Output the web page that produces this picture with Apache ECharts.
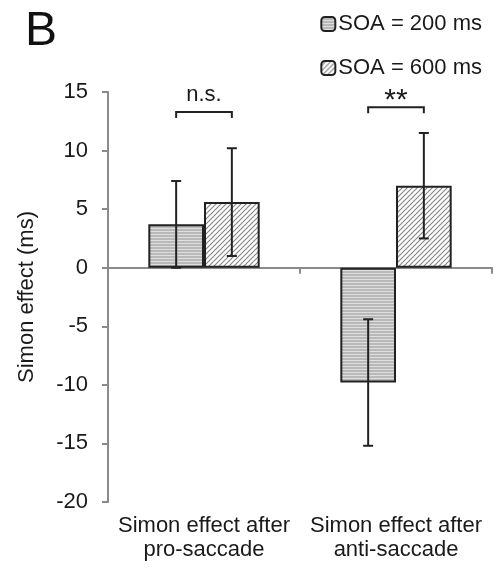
<!DOCTYPE html>
<html><head><meta charset="utf-8">
<script src="https://cdn.jsdelivr.net/npm/echarts@6/dist/echarts.min.js"></script>
<style>html,body{margin:0;background:#fff}#main{width:501px;height:568px}</style>
</head><body><div id="main"></div>
<script>
var categories = ['Simon effect after\npro-saccade', 'Simon effect after\nanti-saccade'];
var seriesNames = ['SOA = 200 ms', 'SOA = 600 ms'];
var soa200 = [3.7, -9.8];
var soa600 = [5.6, 7.0];
var err200 = [3.7, 5.4];
var err600 = [4.6, 4.5];
var bracketY = [13.3, 13.7];
var bracketText = ['n.s.', '**'];
var yTicks = [-20, 15, 5]; // min, max, step

var GAP = 0.42;
var font = 'Liberation Sans';

// fill patterns
function hPattern() {
    var c = document.createElement('canvas');
    c.width = 4; c.height = 3;
    var g = c.getContext('2d');
    g.fillStyle = '#b9b9b9'; g.fillRect(0, 0, 4, 3);
    g.fillStyle = '#dedede'; g.fillRect(0, 0, 4, 1);
    return c;
}
function dPattern() {
    var c = document.createElement('canvas');
    c.width = 5; c.height = 5;
    var g = c.getContext('2d');
    g.fillStyle = '#ffffff'; g.fillRect(0, 0, 5, 5);
    g.strokeStyle = '#888';
    g.lineWidth = 1.2;
    g.beginPath();
    g.moveTo(-1, 6); g.lineTo(6, -1);
    g.moveTo(-1, 1); g.lineTo(1, -1);
    g.moveTo(4, 6); g.lineTo(6, 4);
    g.stroke();
    return c;
}

function errRender(sign) {
    return function (params, api) {
        var cat = api.value(0), v = api.value(1), e = api.value(2);
        var band = api.size([1, 0])[0];
        var bw = band * (1 - GAP) / 2;
        var x = api.coord([cat, 0])[0] + sign * bw / 2;
        var top = api.coord([cat, v + e])[1];
        var bot = api.coord([cat, v - e])[1];
        var cap = 5;
        var st = { stroke: '#222', lineWidth: 2 };
        return {
            type: 'group', children: [
                { type: 'line', shape: { x1: x, y1: top, x2: x, y2: bot }, style: st },
                { type: 'line', shape: { x1: x - cap, y1: top, x2: x + cap, y2: top }, style: st },
                { type: 'line', shape: { x1: x - cap, y1: bot, x2: x + cap, y2: bot }, style: st }
            ]
        };
    };
}

function bracketRender(params, api) {
    var cat = api.value(0), y = api.value(1);
    var band = api.size([1, 0])[0];
    var bw = band * (1 - GAP) / 2;
    var cx = api.coord([cat, 0])[0];
    var py = api.coord([cat, y])[1];
    var x1 = cx - bw / 2, x2 = cx + bw / 2;
    var txt = bracketText[params.dataIndex];
    var stars = txt.indexOf('*') >= 0;
    return {
        type: 'group', children: [
            { type: 'polyline', shape: { points: [[x1, py + 6], [x1, py], [x2, py], [x2, py + 6]] },
              style: { stroke: '#222', lineWidth: 2, fill: null } },
            { type: 'text', style: { x: cx, y: stars ? py + 9 : py - 6, text: txt,
              font: (stars ? '30px ' : '22px ') + font, fill: '#1a1a1a', align: 'center', verticalAlign: 'bottom' } }
        ]
    };
}

var chart = echarts.init(document.getElementById('main'));
chart.setOption({
    animation: false,
    title: {
        text: 'B', left: 20, top: 3,
        textStyle: { fontSize: 48, fontWeight: 'normal', fontFamily: font, color: '#111' }
    },
    legend: {
        orient: 'vertical', right: 14, top: 8, itemGap: 22,
        itemWidth: 14, itemHeight: 14,
        data: seriesNames,
        textStyle: { fontSize: 22, fontFamily: font, color: '#1a1a1a', padding: [0, 0, 0, -2] }
    },
    grid: { left: 108, right: 9, top: 92, bottom: 66 },
    xAxis: [{
        type: 'category', data: categories,
        axisLine: { onZero: true, lineStyle: { color: '#8a8a8a', width: 2 } },
        axisTick: { show: true, length: 6, lineStyle: { color: '#8a8a8a', width: 2 } },
        axisLabel: { show: false }
    }, {
        type: 'category', data: categories, position: 'bottom',
        axisLine: { show: false, onZero: false }, axisTick: { show: false },
        axisLabel: { interval: 0, fontSize: 22, fontFamily: font, color: '#1a1a1a', lineHeight: 24, margin: 12 }
    }],
    yAxis: {
        type: 'value', min: yTicks[0], max: yTicks[1], interval: yTicks[2],
        name: 'Simon effect (ms)', nameLocation: 'middle', nameGap: 70,
        nameTextStyle: { fontSize: 22, fontFamily: font, color: '#1a1a1a' },
        axisLine: { show: true, lineStyle: { color: '#8a8a8a', width: 2 } },
        axisTick: { show: true, length: 6, lineStyle: { color: '#8a8a8a', width: 2 } },
        axisLabel: { fontSize: 22, fontFamily: font, color: '#1a1a1a', margin: 20 },
        splitLine: { show: false }
    },
    series: [{
        name: seriesNames[0], type: 'bar', data: soa200, barGap: '0%', barCategoryGap: '42%',
        itemStyle: { color: { image: hPattern(), repeat: 'repeat' }, borderColor: '#222', borderWidth: 2 }
    }, {
        name: seriesNames[1], type: 'bar', data: soa600, barGap: '0%', barCategoryGap: '42%',
        itemStyle: { color: { image: dPattern(), repeat: 'repeat' }, borderColor: '#222', borderWidth: 2 }
    }, {
        type: 'custom', renderItem: errRender(-1), z: 5,
        data: soa200.map(function (v, i) { return [i, v, err200[i]]; })
    }, {
        type: 'custom', renderItem: errRender(1), z: 5,
        data: soa600.map(function (v, i) { return [i, v, err600[i]]; })
    }, {
        type: 'custom', renderItem: bracketRender, z: 5,
        data: bracketY.map(function (v, i) { return [i, v]; })
    }]
});
</script></body></html>
